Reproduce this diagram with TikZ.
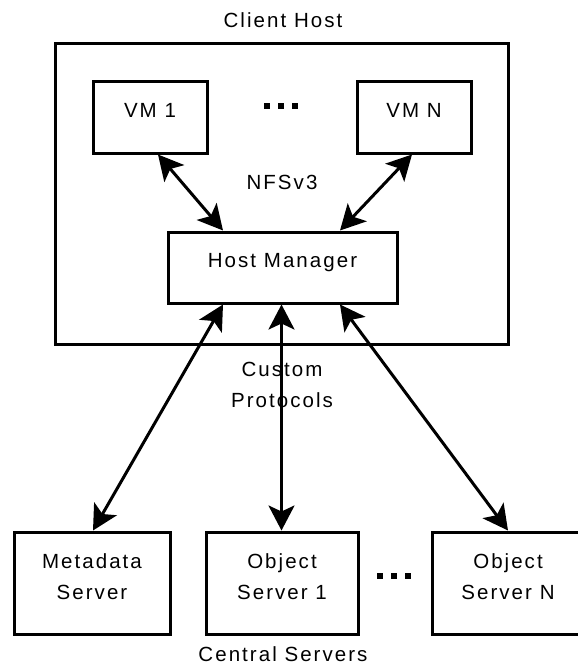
\documentclass[tikz,border=0pt]{standalone}
\usepackage{fontspec}
\setmainfont[LetterSpace=10]{Liberation Sans}
\usetikzlibrary{arrows.meta}

\tikzset{
  box/.style={draw, line width=3pt, inner sep=0pt, minimum width=#1},
  lbl/.style={font=\fontsize{20.5}{30.5}\selectfont, inner sep=0pt, anchor=base, align=center},
  link/.style={line width=3pt, {Stealth[length=25pt,width=26pt,inset=6pt]}-{Stealth[length=25pt,width=26pt,inset=6pt]}},
  dot/.style={fill=black}
}

\begin{document}
\begin{tikzpicture}[x=1pt,y=-1pt]
  \useasboundingbox (0,0) rectangle (578,665);
  \clip (0,0) rectangle (578,665);

  % client host and its virtual machines
  \node[box=453pt, minimum height=301pt] (client) at (281.5,193.5) {};
  \node[lbl] (clientlbl) at (283,27) {Client Host};

  \node[box=114pt, minimum height=72pt] (vm1) at (150,117) {};
  \node[lbl] (vm1lbl) at (150,117) {VM 1};
  \node[box=114pt, minimum height=72pt] (vmn) at (414,117) {};
  \node[lbl] (vmnlbl) at (414,117) {VM N};
  \foreach \cx in {267,281,295} \fill[dot] (\cx-3,103) rectangle (\cx+3,109);

  \node[lbl] (nfs) at (282,189) {NFSv3};

  \node[box=229pt, minimum height=71pt] (host) at (282.5,267.5) {};
  \node[lbl] (hostlbl) at (282.5,267) {Host Manager};

  % central servers (multi-line labels sit on their last baseline)
  \node[box=156pt, minimum height=102pt] (meta) at (92,583) {};
  \node[lbl] (metalbl) at (92,599) {Metadata\\Server};
  \node[box=152pt, minimum height=102pt] (obj1) at (282,583) {};
  \node[lbl] (obj1lbl) at (282,599) {Object\\Server 1};
  \node[box=152pt, minimum height=102pt] (objn) at (508,583) {};
  \node[lbl] (objnlbl) at (508,599) {Object\\Server N};
  \foreach \cx in {380,394,408} \fill[dot] (\cx-3,573) rectangle (\cx+3,579);

  \node[lbl] (proto) at (282,407) {Custom\\Protocols};
  \node[lbl] (central) at (283,661) {Central Servers};

  % connections
  \draw[link] ([xshift=8pt]vm1.south) -- ([xshift=-59.5pt]host.north);
  \draw[link] ([xshift=-2pt]vmn.south) -- ([xshift=57.5pt]host.north);
  \draw[link] ([xshift=-59.5pt]host.south) -- ([xshift=1pt]meta.north);
  \draw[link] ([xshift=-1pt]host.south) -- ([xshift=-0.5pt]obj1.north);
  \draw[link] ([xshift=57.5pt]host.south) -- (objn.north);
\end{tikzpicture}
\end{document}
